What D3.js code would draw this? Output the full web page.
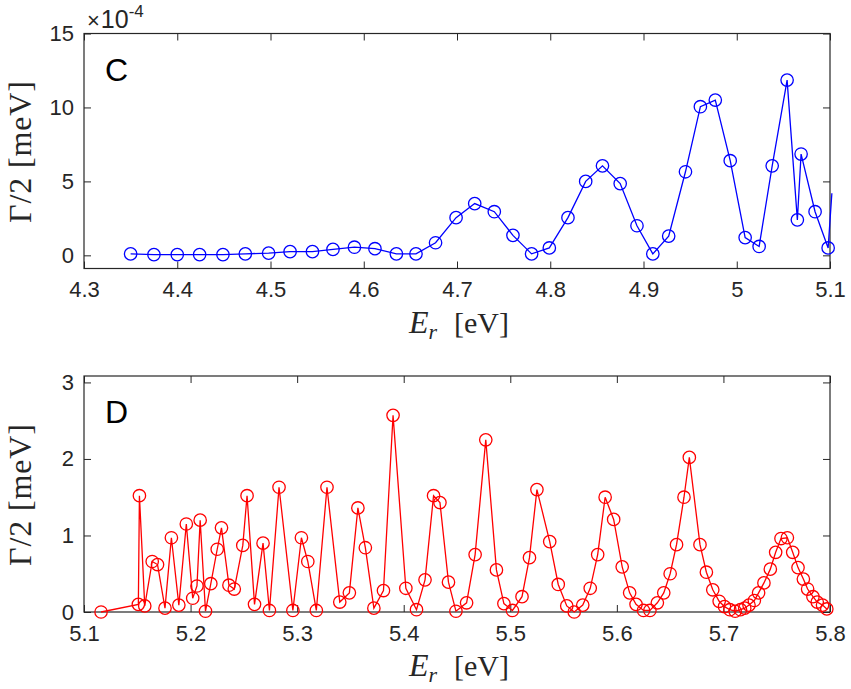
<!DOCTYPE html>
<html>
<head>
<meta charset="utf-8">
<script src="https://cdn.jsdelivr.net/npm/d3@7"></script>
<style>
  html, body { margin: 0; padding: 0; background: #fff; }
  svg { display: block; }
  .tick text { font-family: "Liberation Sans", Arial, sans-serif; font-size: 22px; fill: #262626; }
  .axis-label { font-family: "Liberation Serif", "Times New Roman", serif; font-size: 30px; fill: #262626; }
</style>
</head>
<body>
<svg id="chart" width="851" height="689"></svg>
<script>
// Panel C: resonance half-width, units of 1e-4 meV
const topX = [4.350, 4.375, 4.400, 4.424, 4.449, 4.473, 4.498, 4.521, 4.545, 4.567,
  4.590, 4.612, 4.635, 4.656, 4.677, 4.699, 4.719, 4.740, 4.760, 4.780,
  4.799, 4.819, 4.838, 4.856, 4.875, 4.893, 4.910, 4.927, 4.945, 4.961,
  4.977, 4.993, 5.009, 5.024, 5.038, 5.054, 5.065, 5.069, 5.084, 5.098, 5.102]
const topY = [0.1, 0.05, 0.05, 0.05, 0.05, 0.1, 0.15, 0.25, 0.25, 0.4,
  0.55, 0.45, 0.1, 0.1, 0.85, 2.55, 3.5, 2.95, 1.35, 0.1,
  0.5, 2.55, 5.0, 6.05, 4.85, 2.0, 0.1, 1.3, 5.65, 10.05,
  10.5, 6.4, 1.2, 0.6, 6.05, 11.85, 2.4, 6.85, 2.95, 0.5, 4.2]

// Panel D: resonance half-width, meV
const botX = [5.116, 5.151, 5.152, 5.157, 5.164, 5.169, 5.176, 5.182, 5.189, 5.196,
  5.202, 5.206, 5.209, 5.214, 5.219, 5.225, 5.229, 5.236, 5.241, 5.249,
  5.253, 5.260, 5.268, 5.274, 5.283, 5.296, 5.304, 5.310, 5.318, 5.328,
  5.340, 5.349, 5.357, 5.364, 5.372, 5.381, 5.390, 5.402, 5.412, 5.420,
  5.428, 5.434, 5.442, 5.449, 5.459, 5.467, 5.477, 5.487, 5.494, 5.502,
  5.511, 5.518, 5.525, 5.537, 5.545, 5.553, 5.560, 5.568, 5.575, 5.582,
  5.589, 5.597, 5.605, 5.612, 5.618, 5.625, 5.631, 5.638, 5.644, 5.650,
  5.656, 5.663, 5.668, 5.678, 5.684, 5.690, 5.696, 5.701, 5.706, 5.711,
  5.716, 5.720, 5.724, 5.729, 5.733, 5.738, 5.744, 5.749, 5.754, 5.760,
  5.765, 5.770, 5.775, 5.779, 5.784, 5.788, 5.793, 5.797]
const botY = [0.00, 0.10, 1.52, 0.08, 0.66, 0.62, 0.05, 0.97, 0.09, 1.15,
  0.18, 0.34, 1.20, 0.01, 0.37, 0.82, 1.10, 0.35, 0.30, 0.87,
  1.52, 0.10, 0.90, 0.02, 1.63, 0.02, 0.97, 0.66, 0.02, 1.63,
  0.13, 0.25, 1.36, 0.84, 0.05, 0.28, 2.57, 0.31, 0.03, 0.42,
  1.52, 1.43, 0.39, 0.01, 0.12, 0.75, 2.25, 0.55, 0.11, 0.02,
  0.20, 0.71, 1.60, 0.92, 0.36, 0.08, 0.00, 0.09, 0.31, 0.75,
  1.50, 1.21, 0.59, 0.25, 0.10, 0.02, 0.02, 0.12, 0.25, 0.50,
  0.88, 1.50, 2.02, 0.88, 0.52, 0.29, 0.14, 0.07, 0.03, 0.01,
  0.03, 0.05, 0.09, 0.15, 0.25, 0.38, 0.56, 0.78, 0.96, 0.97,
  0.78, 0.58, 0.43, 0.30, 0.20, 0.13, 0.09, 0.04]

const topXTicks = [4.3, 4.4, 4.5, 4.6, 4.7, 4.8, 4.9, 5.0, 5.1]
const topYTicks = [0, 5, 10, 15]
const botXTicks = [5.1, 5.2, 5.3, 5.4, 5.5, 5.6, 5.7, 5.8]
const botYTicks = [0, 1, 2, 3]

const AXIS_COLOR = "#262626"
const TICK_LEN = 7
const MARKER_R = 6.2

const svg = d3.select("#chart")
const fmt = (d) => String(+d.toFixed(2))

function drawPanel(opts) {
  const { left, right, top, bottom, xs, ys, xDomain, yDomain, xTicks, yTicks, color, letter } = opts
  const x = d3.scaleLinear().domain(xDomain).range([left, right])
  const y = d3.scaleLinear().domain(yDomain).range([bottom, top])
  const g = svg.append("g")

  // axes (ticks point inward, box on)
  const styleAxis = (sel) => {
    sel.select(".domain").remove()
    sel.selectAll(".tick line").attr("stroke", AXIS_COLOR).attr("stroke-width", 1)
  }
  g.append("g")
    .attr("transform", `translate(0,${bottom})`)
    .call(d3.axisBottom(x).tickValues(xTicks).tickFormat(fmt).tickSize(-TICK_LEN).tickPadding(13))
    .call(styleAxis)
  g.append("g")
    .attr("transform", `translate(0,${top})`)
    .call(d3.axisTop(x).tickValues(xTicks).tickFormat("").tickSize(-TICK_LEN))
    .call(styleAxis)
  g.append("g")
    .attr("transform", `translate(${left},0)`)
    .call(d3.axisLeft(y).tickValues(yTicks).tickFormat(fmt).tickSize(-TICK_LEN).tickPadding(10))
    .call(styleAxis)
  g.append("g")
    .attr("transform", `translate(${right},0)`)
    .call(d3.axisRight(y).tickValues(yTicks).tickFormat("").tickSize(-TICK_LEN))
    .call(styleAxis)
  g.selectAll(".tick text").attr("font-family", null).attr("font-size", null)

  g.append("rect")
    .attr("x", left).attr("y", top)
    .attr("width", right - left).attr("height", bottom - top)
    .attr("fill", "none").attr("stroke", AXIS_COLOR).attr("stroke-width", 1.2)

  const pts = xs.map((v, i) => [v, ys[i]])

  g.append("path")
    .datum(pts)
    .attr("fill", "none")
    .attr("stroke", color)
    .attr("stroke-width", 1.3)
    .attr("d", d3.line().x((d) => x(d[0])).y((d) => y(d[1])))

  // markers are only drawn when the centre is inside the axes
  g.selectAll("circle.mk")
    .data(pts.filter((d) => d[0] >= xDomain[0] && d[0] <= xDomain[1]))
    .join("circle")
    .attr("class", "mk")
    .attr("cx", (d) => x(d[0]))
    .attr("cy", (d) => y(d[1]))
    .attr("r", MARKER_R)
    .attr("fill", "none")
    .attr("stroke", color)
    .attr("stroke-width", 1.3)

  g.append("text")
    .attr("x", left + 21)
    .attr("y", top + 47)
    .attr("font-family", "Liberation Sans, Arial, sans-serif")
    .attr("font-size", 32)
    .attr("fill", "#000")
    .text(letter)

  // x label: E_r [eV]
  const xl = g.append("text")
    .attr("class", "axis-label")
    .attr("x", (left + right) / 2 + 2)
    .attr("y", bottom + 64)
    .attr("text-anchor", "middle")
  xl.append("tspan").attr("font-style", "italic").attr("font-size", 32).text("E")
  xl.append("tspan").attr("font-style", "italic").attr("font-size", 22).attr("dy", 6).text("r")
  xl.append("tspan").attr("dy", -6).attr("dx", 17).text("[eV]")

  // y label: Γ/2 [meV]
  g.append("text")
    .attr("class", "axis-label")
    .attr("transform", `translate(31,${(top + bottom) / 2 + 1}) rotate(-90)`)
    .attr("text-anchor", "middle")
    .style("font-size", "32px")
    .attr("textLength", 142)
    .attr("lengthAdjust", "spacing")
    .text("Γ/2 [meV]")

  return { x, y }
}

drawPanel({
  left: 84, right: 830, top: 33.5, bottom: 268.5,
  xs: topX, ys: topY,
  xDomain: [4.3, 5.1], yDomain: [-0.89, 15],
  xTicks: topXTicks, yTicks: topYTicks,
  color: "#0000ff", letter: "C",
})

drawPanel({
  left: 84, right: 830, top: 376, bottom: 612,
  xs: botX, ys: botY,
  xDomain: [5.1, 5.8], yDomain: [0, 3.084],
  xTicks: botXTicks, yTicks: botYTicks,
  color: "#ff0000", letter: "D",
})

// exponent label for panel C
const ex = svg.append("text")
  .attr("x", 87)
  .attr("y", 28)
  .attr("font-family", "Liberation Sans, Arial, sans-serif")
  .attr("font-size", 25)
  .attr("fill", AXIS_COLOR)
ex.append("tspan").attr("font-size", 22).text("×")
ex.append("tspan").attr("dx", 1).text("10")
ex.append("tspan").attr("font-size", 17).attr("dy", -11).text("-4")
</script>
</body>
</html>
